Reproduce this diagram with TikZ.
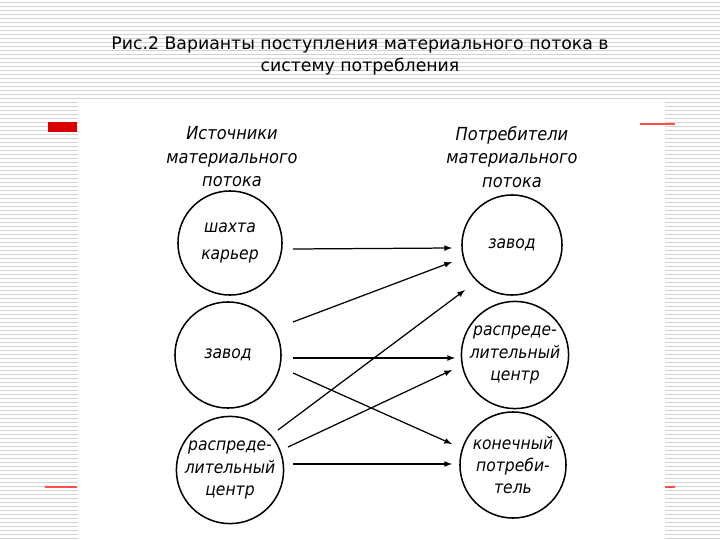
\documentclass[tikz,border=0pt]{standalone}
\usepackage{fontspec}
\setmainfont{DejaVu Sans}
\newfontfamily\hand{DejaVu Sans Condensed}
\begin{document}
\begin{tikzpicture}[x=0.01in,y=-0.01in,
  circ/.style={circle,draw,line width=1.1pt,minimum size=#1,inner sep=0pt,font=\hand\itshape\fontsize{12.5}{16}\selectfont,align=center},
  arr/.style={-latex,line width=0.9pt},
  head/.style={font=\hand\itshape\fontsize{13}{17}\selectfont,align=center}]
\useasboundingbox (0,0) rectangle (720,540);
\fill[white] (0,0) rectangle (720,540);
\foreach \y in {2,6,...,540} \draw[gray!35,line width=0.5pt] (0,\y) -- (720,\y);
\fill[white] (78,100) rectangle (665,540);
\fill[red!85!black] (48,122) rectangle (77,132);
\draw[red!70,line width=0.8pt] (640,124) -- (675,124);
\draw[red!70,line width=0.8pt] (45,487) -- (77,487);
\draw[red!70,line width=0.8pt] (665,487) -- (675,487);
\node[font=\fontsize{12.5}{16}\selectfont,align=center] (title) at (360,56) {Рис.2 Варианты поступления материального потока в\\систему потребления};
\node[head] (hl) at (232,157) {Источники\\материального\\потока};
\node[head] (hr) at (512,157) {Потребители\\материального\\потока};
\node[circ=1.04in] (a) at (230,243) {шахта\\[4pt]карьер};
\node[circ=1.06in] (b) at (228,355) {завод};
\node[circ=1.06in] (c) at (230,470) {распреде-\\лительный\\центр};
\node[circ=1.0in] (d) at (512,245) {завод};
\node[circ=1.06in] (e) at (515,355) {распреде-\\лительный\\центр};
\node[circ=1.06in] (f) at (513,465) {конечный\\потреби-\\тель};
\coordinate (a1) at (293,249); \coordinate (d1) at (452,248);
\coordinate (b1) at (293,322); \coordinate (d2) at (452,262);
\coordinate (b2) at (293,358); \coordinate (e1) at (455,358);
\coordinate (b3) at (293,373); \coordinate (f1) at (452,444);
\coordinate (c1) at (278,430); \coordinate (d3) at (465,290);
\coordinate (c2) at (288,447); \coordinate (e2) at (452,370);
\coordinate (c3) at (293,464); \coordinate (f2) at (452,464);
\draw[arr] (a1) -- (d1);
\draw[arr] (b1) -- (d2);
\draw[arr] (b2) -- (e1);
\draw[arr] (b3) -- (f1);
\draw[arr] (c1) -- (d3);
\draw[arr] (c2) -- (e2);
\draw[arr] (c3) -- (f2);
\end{tikzpicture}
\end{document}
